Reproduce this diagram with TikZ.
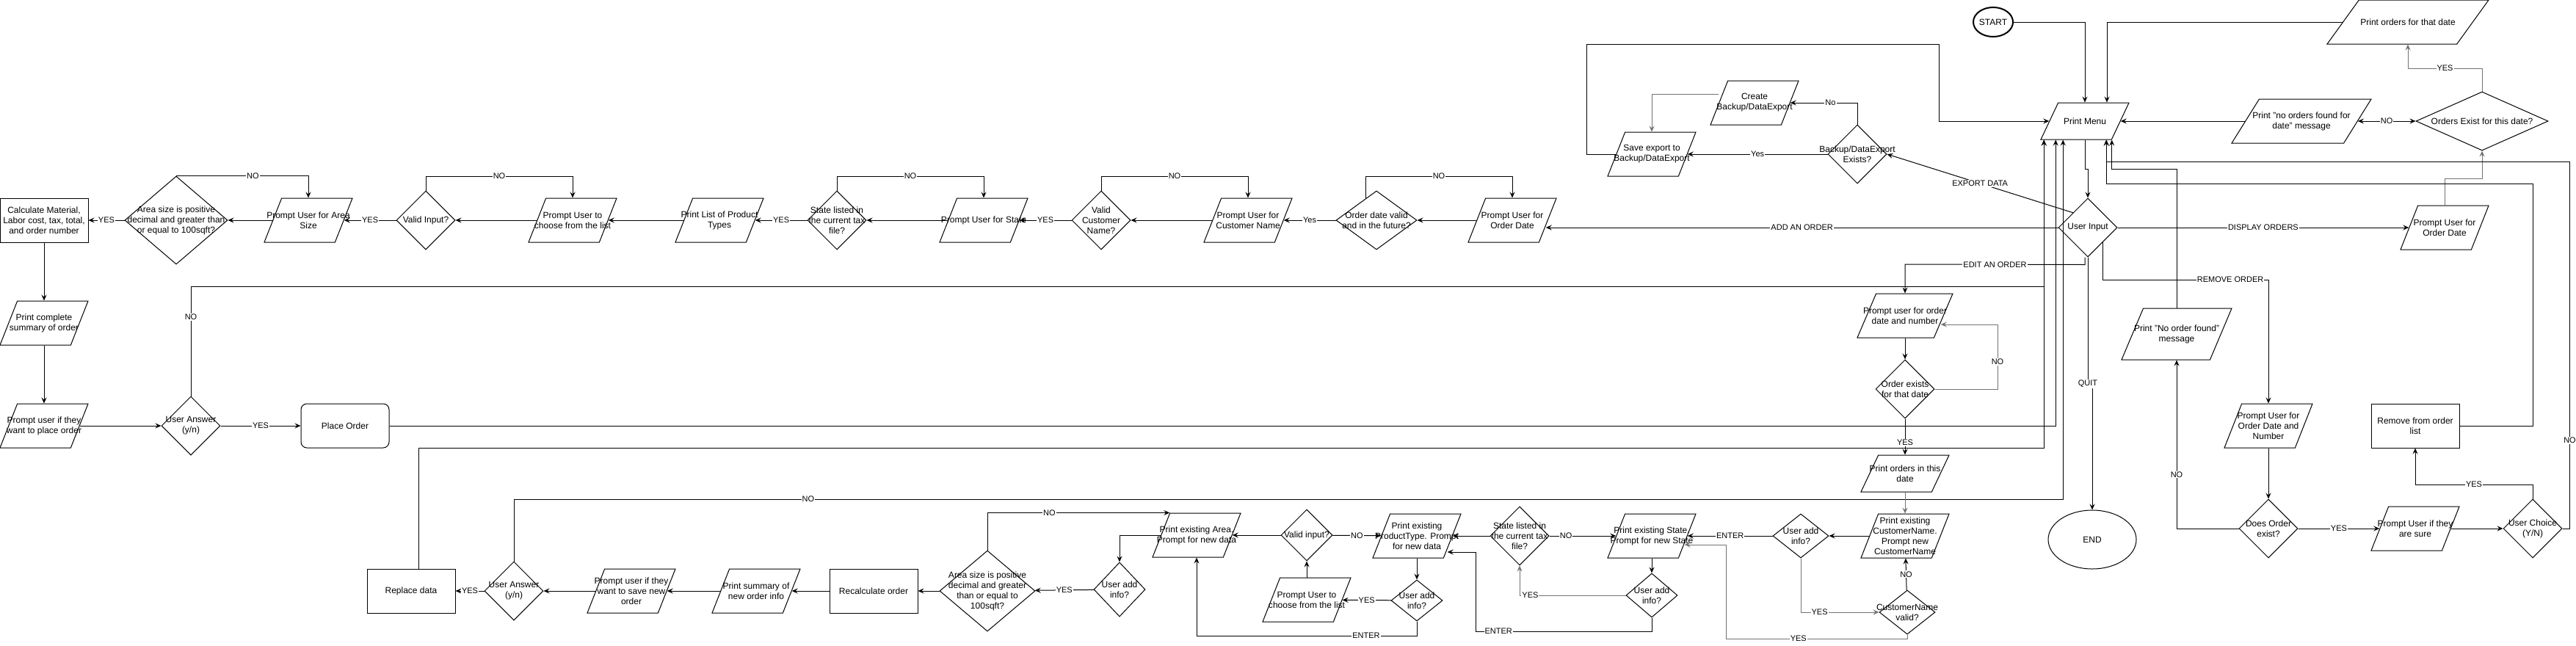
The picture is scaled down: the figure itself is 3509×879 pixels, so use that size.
\documentclass[tikz,border=0pt]{standalone}
\usepackage{fontspec}
\setmainfont{Liberation Sans}
\usetikzlibrary{shapes.geometric, arrows.meta, calc}
\newcommand{\boxfont}{\fontsize{12}{14}\selectfont}
\newcommand{\tagfont}{\fontsize{11}{12}\selectfont}

\begin{document}
\begin{tikzpicture}[x=1pt, y=-1pt, line width=1pt, >={Stealth[length=8pt,width=7pt,inset=3pt]},
    txt/.style={align=center, font=\boxfont, inner sep=0pt},
    io/.style={trapezium, trapezium left angle=72, trapezium right angle=108, trapezium stretches=true,
      draw, inner sep=2pt, minimum width=120pt, minimum height=60pt, label={[txt]center:#1}},
    decide/.style={diamond, draw, inner sep=0pt, minimum width=80pt, minimum height=80pt, label={[txt]center:#1}},
    proc/.style={rectangle, draw, inner sep=0pt, minimum width=120pt, minimum height=60pt, align=center, font=\boxfont},
    term/.style={ellipse, draw, inner sep=0pt, font=\boxfont},
    lbl/.style={fill=white, inner sep=1pt, font=\tagfont},
    faint/.style={draw=black!55}]

    \fill[white] (0,0) rectangle (3509,879);
    \useasboundingbox (0,0) rectangle (3509,879);

    % add an order
    \node[proc] (calc) at (60,300) {Calculate Material,\\Labor cost, tax, total,\\and order number};
    \node[decide={Area size is positive\\decimal and greater than\\or equal to 100sqft?}, minimum width=140pt, minimum height=120pt] (d_area1) at (240,300) {};
    \node[io={Prompt User for Area\\Size}] (p_area1) at (420,300) {};
    \node[decide={Valid Input?}] (d_valid1) at (580,300) {};
    \node[io={Prompt User to\\choose from the list}] (p_choose1) at (780,300) {};
    \node[io={Print List of Product\\Types}] (p_types) at (980,300) {};
    \node[decide={State listed in\\the current tax\\file?}] (d_state1) at (1140,300) {};
    \node[io={Prompt User for State}] (p_state1) at (1340,300) {};
    \node[decide={Valid\\Customer\\Name?}] (d_name) at (1500,300) {};
    \node[io={Prompt User for\\Customer Name}] (p_name) at (1700,300) {};
    \node[decide={Order date valid\\and in the future?}, minimum width=110pt] (d_date) at (1875,300) {};
    \node[io={Prompt User for\\Order Date}] (p_date) at (2060,300) {};
    \coordinate (c_date) at ($(d_date.north)!0.27!(d_date.west)$);

    \node[io={Print complete\\summary of order}] (p_summary) at (60,440) {};
    \node[io={Prompt user if they\\want to place order}] (p_place) at (60,580) {};
    \node[decide={User Answer\\(y/n)}] (d_answer1) at (260,580) {};
    \node[proc, rounded corners=8pt] (place) at (470,580) {Place Order};

    % menu
    \node[term, line width=2pt, minimum width=50pt, minimum height=40pt] (start) at (2715,30) {START};
    \node[io={Print Menu}, minimum height=50pt] (menu) at (2840,165) {};
    \node[decide={User Input}] (d_input) at (2844,310) {};
    \node[term, minimum width=120pt, minimum height=80pt] (finish) at (2850,735) {END};
    \coordinate (m_a) at ([xshift=5pt]menu.bottom left corner);
    \coordinate (m_b) at ([xshift=21pt]menu.bottom left corner);
    \coordinate (m_c) at ([xshift=31pt]menu.bottom left corner);
    \coordinate (m_d) at ([xshift=90pt]menu.bottom left corner);
    \coordinate (m_e) at ([xshift=30pt]menu.north);

    % export data
    \node[decide={Backup/DataExport\\Exists?}] (d_backup) at (2530,210) {};
    \node[io={Create\\Backup/DataExport}] (p_create) at (2390,140) {};
    \node[io={Save export to\\Backup/DataExport}] (p_save) at (2250,210) {};

    % display orders
    \node[io={Prompt User for\\Order Date}] (p_date2) at (3330,310) {};
    \node[decide={Orders Exist for this date?}, minimum width=180pt] (d_exist) at (3381,165) {};
    \node[io={Print "no orders found for\\date" message}, minimum width=190pt] (p_none) at (3135,165) {};
    \node[io={Print orders for that date}, minimum width=220pt] (p_orders) at (3280,30) {};

    % remove order
    \node[io={Prompt User for\\Order Date and\\Number}] (p_remove) at (3090,580) {};
    \node[decide={Does Order\\exist?}] (d_does) at (3090,720) {};
    \node[io={Print "No order found"\\message}, minimum width=150pt, minimum height=70pt] (p_notfound) at (2965,455) {};
    \node[io={Prompt User if they\\are sure}] (p_sure) at (3290,720) {};
    \node[decide={User Choice\\(Y/N)}] (d_sure) at (3450,720) {};
    \node[proc] (remove) at (3290,580) {Remove from order\\list};

    % edit an order
    \node[io={Prompt user for order\\date and number}, minimum width=130pt] (p_edit) at (2595,430) {};
    \node[decide={Order exists\\for that date}] (d_found) at (2595,530) {};
    \node[io={Print orders in this\\date}, minimum height=50pt] (p_inday) at (2595,645) {};
    \node[io={Print existing\\CustomerName.\\Prompt new\\CustomerName}] (p_exname) at (2595,730) {};
    \node[decide={User add\\info?}, minimum width=76pt, minimum height=60pt] (d_addname) at (2453,730) {};
    \node[decide={CustomerName\\valid?}, minimum width=76pt, minimum height=60pt] (d_namevalid) at (2598,834) {};
    \node[io={Print existing State.\\Prompt for new State}] (p_exstate) at (2250,730) {};
    \node[decide={User add\\info?}, minimum width=70pt, minimum height=60pt] (d_addstate) at (2250,811) {};
    \node[decide={State listed in\\the current tax\\file?}] (d_state2) at (2070,730) {};
    \node[io={Print existing\\ProductType. Prompt\\for new data}] (p_extype) at (1930,730) {};
    \node[decide={User add\\info?}, minimum width=70pt, minimum height=56pt] (d_addtype) at (1930,818) {};
    \node[io={Prompt User to\\choose from the list}] (p_choose2) at (1780,817) {};
    \node[decide={Valid input?}, minimum width=70pt, minimum height=70pt] (d_valid2) at (1780,729) {};
    \node[io={Print existing Area.\\Prompt for new data}] (p_exarea) at (1630,729) {};
    \node[decide={User add\\info?}, minimum width=70pt, minimum height=74pt] (d_addarea) at (1525,803) {};
    \node[decide={Area size is positive\\decimal and greater\\than or equal to\\100sqft?}, minimum width=130pt, minimum height=110pt] (d_area2) at (1345,805) {};
    \node[proc] (recalc) at (1190,805) {Recalculate order};
    \node[io={Print summary of\\new order info}] (p_newsum) at (1030,805) {};
    \node[io={Prompt user if they\\want to save new\\order}] (p_save2) at (860,805) {};
    \node[decide={User Answer\\(y/n)}] (d_answer2) at (700,805) {};
    \node[proc] (replace) at (560,805) {Replace data};

    % add an order links
    \path[->] (p_date) edge (d_date)
              (d_date) edge node[lbl]{Yes} (p_name)
              (p_name) edge (d_name)
              (d_name) edge node[lbl]{YES} (p_state1)
              (p_state1) edge (d_state1)
              (d_state1) edge node[lbl]{YES} (p_types)
              (p_types) edge (p_choose1)
              (p_choose1) edge (d_valid1)
              (d_valid1) edge node[lbl]{YES} (p_area1)
              (p_area1) edge (d_area1)
              (d_area1) edge node[lbl]{YES} (calc)
              (calc) edge (p_summary)
              (p_summary) edge (p_place)
              (p_place) edge (d_answer1)
              (d_answer1) edge node[lbl]{YES} (place);

    \draw[->] (d_area1.north) -- node[lbl, pos=0.58]{NO} (d_area1.north -| p_area1.north) -- (p_area1.north);
    \draw[->] (d_valid1.north) -- (d_valid1.north |- 0,240) -- node[lbl]{NO} (p_choose1.north |- 0,240) -- (p_choose1.north);
    \draw[->] (d_state1.north) -- (d_state1.north |- 0,240) -- node[lbl]{NO} (p_state1.north |- 0,240) -- (p_state1.north);
    \draw[->] (d_name.north) -- (d_name.north |- 0,240) -- node[lbl]{NO} (p_name.north |- 0,240) -- (p_name.north);
    \draw[->] (c_date) -- (c_date |- 0,240) -- node[lbl]{NO} (p_date.north |- 0,240) -- (p_date.north);

    % back to the menu
    \draw[->] (d_answer1.north) -- node[lbl, pos=0.72]{NO} (d_answer1.north |- 0,390) -| (m_a);
    \draw[->] (place.east) -| (m_b);
    \draw[->] ([xshift=10pt]replace.north) |- (m_a |- 0,610) -- (m_a);
    \draw[->] (d_answer2.north) -- (d_answer2.north |- 0,680) -- node[lbl, pos=0.19]{NO} (m_c |- 0,680) -- (m_c);

    % menu links
    \draw[->] (start.east) -| (menu.north);
    \draw[->] (p_orders.left side) -| (m_e);
    \draw[->] (menu.south) -- (menu.south |- 0,230) -| (d_input.north);
    \draw[->] (p_none.left side) -- (menu.right side);
    \draw[<->] (d_exist.west) -- node[lbl]{NO} (p_none.right side);
    \draw[->, faint] (d_exist.north) -- (d_exist.north |- 0,93) -- node[lbl]{YES} (p_orders.south |- 0,93) -- (p_orders.south);
    \draw[->, faint] (p_date2.north) -- (p_date2.north |- 0,243) -| (d_exist.south);
    \path[->] (d_input.east) edge node[lbl]{DISPLAY ORDERS} (p_date2);
    \draw[->] (d_input.north west) -- node[lbl]{EXPORT DATA} (d_backup.east);
    \draw[->] (d_input.west) -- node[lbl]{ADD AN ORDER} ([xshift=-3pt, yshift=-10pt]p_date.right side);
    \draw[->] ([xshift=-4pt]d_input.south) -- ++(0,10) -- node[lbl]{EDIT AN ORDER} (p_edit.north |- 0,360) -- (p_edit.north);
    \draw[->] (d_input.south) -- (d_input.south |- 0,523) node[lbl]{QUIT} -| (finish.north);
    \draw[->] (d_input.south east) -- (d_input.south east |- 0,381) -- node[lbl, pos=0.77]{REMOVE ORDER} (p_remove.north |- 0,381) -- (p_remove.north);

    % export links
    \draw[->] (d_backup.north) |- node[lbl, pos=0.7]{No} (p_create.right side);
    \path[->] (d_backup) edge node[lbl]{Yes} (p_save);
    \draw[->, faint] ([yshift=12pt]p_create.left side) -| (p_save.north);
    \draw[->] (p_save.left side) -- ++(-40,0) |- (2641,60) |- (menu.left side);

    % remove links
    \path[->] (p_remove) edge (d_does)
              (d_does) edge node[lbl]{YES} (p_sure)
              (p_sure) edge (d_sure);
    \draw[->] (d_does.west) -| node[lbl, pos=0.66]{NO} (p_notfound.south);
    \draw[->] (p_notfound.north) -- (p_notfound.north |- 0,230) -| (menu.bottom right corner);
    \draw[->] (d_sure.north) -- (d_sure.north |- 0,660) -- node[lbl]{YES} (remove.south |- 0,660) -- (remove.south);
    \draw[->] (remove.east) -| (d_sure.north |- 0,250) -| (m_d);
    \draw[->] (d_sure.east) -- ++(10,0) -- node[lbl, pos=0.24]{NO} ++(0,-500) -| (m_d);

    % edit links
    \path[->] (p_edit) edge (d_found)
              (d_found) edge node[lbl, pos=0.66]{YES} (p_inday)
              (p_inday) edge[faint] (p_exname)
              (p_exname) edge (d_addname)
              (d_addname) edge node[lbl]{ENTER} (p_exstate)
              (d_namevalid) edge node[lbl]{NO} (p_exname);
    \draw[->, faint] (d_found.east) -| node[lbl, pos=0.71]{NO} (2721,442) -- ([xshift=-4pt, yshift=-12pt]p_edit.right side);
    \draw[->, faint] (d_addname.south) |- node[lbl, pos=0.62]{YES} (d_namevalid.west);
    \draw[->, faint] (d_namevalid.south) -- (d_namevalid.south |- 0,870) -- node[lbl, pos=0.6]{YES} (2351,870)
        |- ([xshift=-4pt, yshift=-12pt]p_exstate.right side);

    \path[->] (p_exstate) edge (d_addstate)
              (d_state2) edge node[lbl, pos=0.25]{NO} (p_exstate)
              (d_state2) edge (p_extype);
    \draw[->, faint] (d_addstate.west) -| node[lbl, pos=0.45]{YES} (d_state2.south);
    \draw[->] (d_addstate.south) -- (d_addstate.south |- 0,860) -- node[lbl, pos=0.87]{ENTER} (2010,860)
        |- ([xshift=-7pt, yshift=-22pt]p_extype.right side);

    \path[->] (p_extype) edge (d_addtype)
              (d_addtype) edge node[lbl]{YES} (p_choose2)
              (p_choose2) edge (d_valid2)
              (d_valid2) edge node[lbl]{NO} (p_extype)
              (d_valid2) edge (p_exarea);
    \draw[->] (d_addtype.south) -- (d_addtype.south |- 0,866) -- node[lbl, pos=0.23]{ENTER} (p_exarea.south |- 0,866) -- (p_exarea.south);
    \draw[->] (p_exarea.left side) -| (d_addarea.north);
    \draw[->] (d_area2.north) |- node[lbl, pos=0.67]{NO} (p_exarea.top left corner);
    \path[->] (d_addarea) edge node[lbl]{YES} (d_area2)
              (d_area2) edge (recalc)
              (recalc) edge (p_newsum)
              (p_newsum) edge (p_save2)
              (p_save2) edge (d_answer2)
              (d_answer2) edge node[lbl]{YES} (replace);
\end{tikzpicture}
\end{document}
